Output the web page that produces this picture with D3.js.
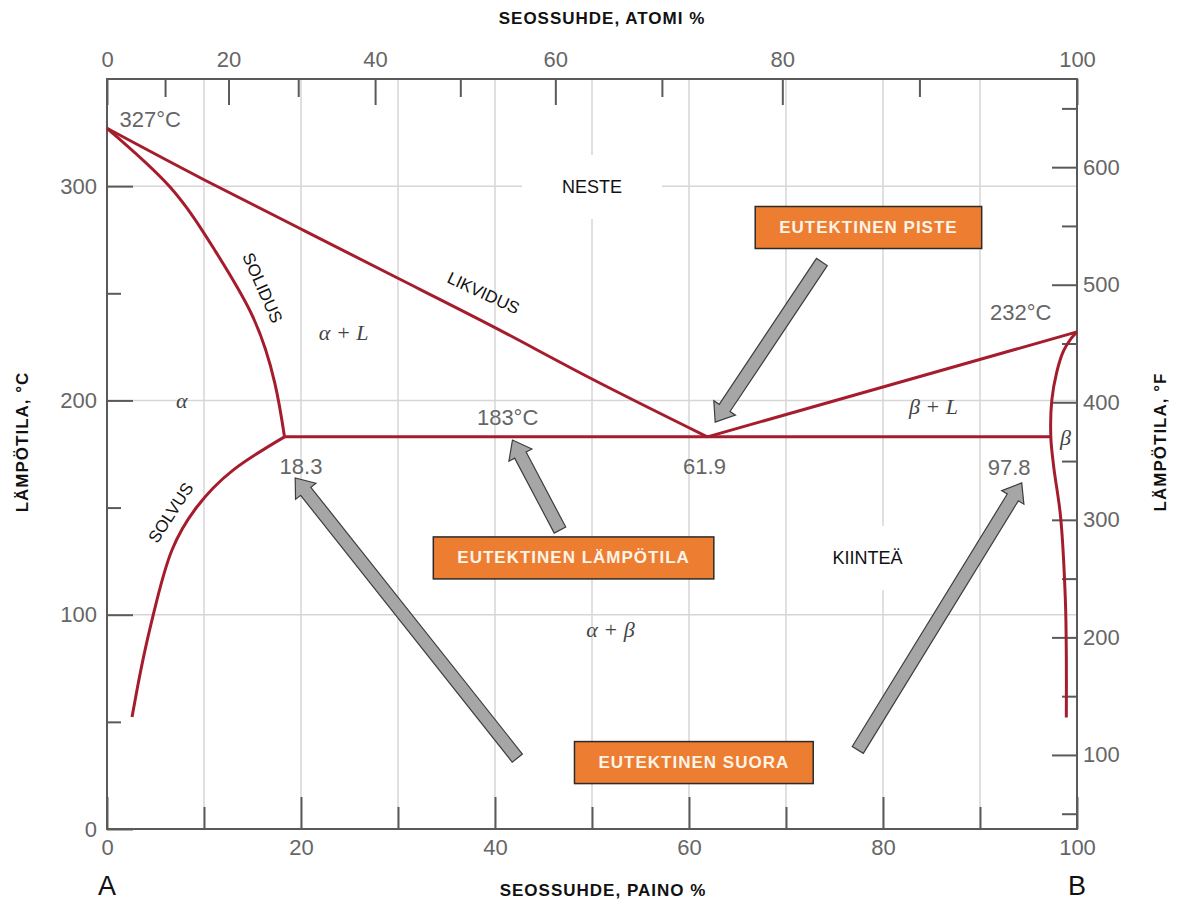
<!DOCTYPE html>
<html><head><meta charset="utf-8">
<script src="https://cdn.jsdelivr.net/npm/d3@7/dist/d3.min.js"></script>
<style>body{margin:0;background:#fff}svg{display:block}</style>
</head><body><svg id="c" width="1179" height="903"></svg>
<script>
// ---------- data (wt% Sn, °C) ----------
const liquidusLeft  = [[0,327],[10,303],[20,280],[30,257],[40,234],[50,210],[61.9,183]];
const solidusLeft   = [[0,327],[6.5,299.6],[11.1,270.2],[15.05,238.9],[17.3,208.1],[18.3,183]];
const solvusLeft    = [[18.3,183],[13,167.5],[9.18,149.8],[6.7,130.2],[5.15,106.9],[3.92,83.5],[3.09,64.9],[2.58,52.3]];
const eutecticLine  = [[18.3,183],[97.3,183]];
const liquidusRight = [[61.9,183],[100,232]];
const betaBoundary  = [[100,232],[99.4,229],[98.6,223],[97.9,213],[97.4,200],[97.3,183],[97.6,169],[98.3,146],[98.8,107],[98.9,80],[98.9,52]];

const wtTicks      = [0,20,40,60,80,100];
const wtMinorTicks = [10,30,50,70,90];
const atTicks      = [0,20,40,60,80,100];
const atMinorTicks = [10,30,50,70,90];
const cTicks       = [0,100,200,300];
const cMinorTicks  = [50,150,250];
const fTicks       = [100,200,300,400,500,600];
const fMinorTicks  = [50,150,250,350,450,550,650];
const gridX        = [10,20,30,40,50,60,70,80,90];
const gridY        = [100,200,300];

// value labels: [text, wt%, °C, anchor]
const valueLabels = [["327°C",1.3,331,"start"],["232°C",94.2,241,"middle"],["183°C",41.3,192,"middle"],
                     ["18.3",20.0,169,"middle"],["61.9",61.6,169,"middle"],["97.8",93.0,168.5,"middle"]];
const regionLabels = [["NESTE",50,299.6],["KIINTEÄ",78.4,126.5]];
const curveLabels  = [["LIKVIDUS",38.8,250,25],["SOLIDUS",16,252.5,66],["SOLVUS",6.6,147.5,-57]];
const phaseLabels  = [["α + L",24.4,231.5],["α",7.7,200],["β + L",85.2,197],["β",98.8,182.5],["α + β",51.9,93]];
const boxLabels    = [["EUTEKTINEN PISTE",78.5,280.7],["EUTEKTINEN LÄMPÖTILA",48.1,126.5],["EUTEKTINEN SUORA",60.5,31]];
// arrows: [tail wt, tail °C, tip wt, tip °C]
const arrows = [[73.7,264.6,62.7,189.9],[46.7,139.5,41.8,181.5],[42.3,33.1,19.4,163.8],[77.4,36.9,94.3,161.5]];

// ---------- scales ----------
const svg = d3.select("#c");
const x  = d3.scaleLinear().domain([0,100]).range([107,1077]);
const y  = d3.scaleLinear().domain([0,350]).range([829,79]);
const yF = d3.scaleLinear().domain([37,675]).range([829,79]);
const MPb = 207.2, MSn = 118.71;
const atToWt = a => a*MSn/(a*MSn + (100-a)*MPb)*100;

const sans = "'Liberation Sans', Arial, sans-serif";
const grey = "#666";
const axisCol = "#5a5a5a";

// ---------- grid ----------
const g = svg.append("g");
g.selectAll(".gx").data(gridX).join("line")
  .attr("x1",d=>x(d)).attr("x2",d=>x(d)).attr("y1",y(0)).attr("y2",y(350))
  .attr("stroke","#d6d6d6").attr("stroke-width",1.5);
g.selectAll(".gy").data(gridY).join("line")
  .attr("x1",x(0)).attr("x2",x(100)).attr("y1",d=>y(d)).attr("y2",d=>y(d))
  .attr("stroke","#d6d6d6").attr("stroke-width",1.5);

// ---------- axes ----------
function style(sel, labels=true){
  sel.select(".domain").remove();
  sel.selectAll(".tick line").attr("stroke",axisCol).attr("stroke-width",2);
  sel.selectAll(".tick text").attr("fill",grey).style("font-family",sans).style("font-size","22px");
  if(!labels) sel.selectAll(".tick text").remove();
}
svg.append("g").attr("transform",`translate(0,${y(0)})`)
  .call(d3.axisBottom(x).tickValues(wtTicks).tickSize(-32).tickPadding(10).tickFormat(d3.format("d"))).call(style);
svg.append("g").attr("transform",`translate(0,${y(0)})`)
  .call(d3.axisBottom(x).tickValues(wtMinorTicks).tickSize(-22)).call(s=>style(s,false));
svg.append("g").attr("transform",`translate(0,${y(350)})`)
  .call(d3.axisTop(x).tickValues(atTicks.map(atToWt)).tickSize(-26).tickPadding(12).tickFormat((d,i)=>atTicks[i])).call(style);
svg.append("g").attr("transform",`translate(0,${y(350)})`)
  .call(d3.axisTop(x).tickValues(atMinorTicks.map(atToWt)).tickSize(-18)).call(s=>style(s,false));
svg.append("g").attr("transform",`translate(${x(0)},0)`)
  .call(d3.axisLeft(y).tickValues(cTicks).tickSize(-26).tickPadding(10)).call(style);
svg.append("g").attr("transform",`translate(${x(0)},0)`)
  .call(d3.axisLeft(y).tickValues(cMinorTicks).tickSize(-14)).call(s=>style(s,false));
svg.append("g").attr("transform",`translate(${x(100)},0)`)
  .call(d3.axisRight(yF).tickValues(fTicks).tickSize(-25).tickPadding(6)).call(style);
svg.append("g").attr("transform",`translate(${x(100)},0)`)
  .call(d3.axisRight(yF).tickValues(fMinorTicks).tickSize(-15)).call(s=>style(s,false));

svg.append("rect").attr("x",x(0)).attr("y",y(350)).attr("width",x(100)-x(0)).attr("height",y(0)-y(350))
  .attr("fill","none").attr("stroke",axisCol).attr("stroke-width",2);

// ---------- axis titles ----------
const title = (t,xx,yy,rot)=>svg.append("text").text(t)
  .attr("transform",`translate(${xx},${yy}) rotate(${rot})`).attr("text-anchor","middle")
  .attr("dominant-baseline","central").style("font-family",sans).style("font-weight","bold")
  .style("font-size","17px").style("letter-spacing","1px").attr("fill","#111");
title("SEOSSUHDE, ATOMI %", 602, 18, 0);
title("SEOSSUHDE, PAINO %", 603, 890, 0);
title("LÄMPÖTILA, °C", 22, 442, -90);
title("LÄMPÖTILA, °F", 1160, 442, -90);
svg.append("text").text("A").attr("x",x(0)).attr("y",886).attr("text-anchor","middle")
  .attr("dominant-baseline","central").style("font-family",sans).style("font-size","27px").attr("fill","#111");
svg.append("text").text("B").attr("x",x(100)).attr("y",886).attr("text-anchor","middle")
  .attr("dominant-baseline","central").style("font-family",sans).style("font-size","27px").attr("fill","#111");

// ---------- region labels with white background ----------
regionLabels.forEach(([t,w,c])=>{
  const gl = svg.append("g");
  const tx = gl.append("text").text(t).attr("x",x(w)).attr("y",y(c)).attr("text-anchor","middle")
    .attr("dominant-baseline","central").style("font-family",sans).style("font-size","18px").attr("fill","#111");
  const b = tx.node().getBBox();
  gl.insert("rect", () => tx.node()).attr("x",b.x-40).attr("y",b.y-22).attr("width",b.width+80).attr("height",b.height+44).attr("fill","#fff");
});

// ---------- curves ----------
const lineLin = d3.line().x(d=>x(d[0])).y(d=>y(d[1]));
const lineNat = d3.line().x(d=>x(d[0])).y(d=>y(d[1])).curve(d3.curveNatural);
const lineCR = d3.line().x(d=>x(d[0])).y(d=>y(d[1])).curve(d3.curveCatmullRom.alpha(0.5));
const red = "#a51d2d";
[[liquidusLeft,lineNat],[solidusLeft,lineNat],[solvusLeft,lineNat],[eutecticLine,lineLin],[liquidusRight,lineLin],[betaBoundary,lineCR]]
  .forEach(([d,gen])=>svg.append("path").attr("d",gen(d)).attr("fill","none").attr("stroke",red)
     .attr("stroke-width",3).attr("stroke-linejoin","miter").attr("stroke-linecap","butt"));

// ---------- value labels ----------
valueLabels.forEach(([t,w,c,a])=>svg.append("text").text(t).attr("x",x(w)).attr("y",y(c))
  .attr("text-anchor",a).attr("dominant-baseline","central").style("font-family",sans)
  .style("font-size","22px").attr("fill",grey));

curveLabels.forEach(([t,w,c,r])=>svg.append("text").text(t)
  .attr("transform",`translate(${x(w)},${y(c)}) rotate(${r})`).attr("text-anchor","middle")
  .attr("dominant-baseline","central").style("font-family",sans).style("font-size","17px").attr("fill","#111"));

phaseLabels.forEach(([t,w,c])=>svg.append("text").text(t).attr("x",x(w)).attr("y",y(c))
  .attr("text-anchor","middle").attr("dominant-baseline","central")
  .style("font-family","'Liberation Serif','DejaVu Serif',serif").style("font-style","italic")
  .style("font-size","22px").attr("fill","#444").style("white-space","pre"));

// ---------- arrows ----------
const sw=6.5, hw=13, hl=17;
arrows.forEach(([w0,c0,w1,c1])=>{
  const X0=x(w0),Y0=y(c0),X1=x(w1),Y1=y(c1);
  const dx=X1-X0, dy=Y1-Y0, L=Math.hypot(dx,dy), ux=dx/L, uy=dy/L, px=-uy, py=ux;
  const bx=X1-ux*hl, by=Y1-uy*hl;
  const pts=[[X0+px*sw,Y0+py*sw],[bx+px*sw,by+py*sw],[bx+px*hw,by+py*hw],[X1,Y1],
             [bx-px*hw,by-py*hw],[bx-px*sw,by-py*sw],[X0-px*sw,Y0-py*sw]];
  svg.append("path").attr("d",d3.line()(pts)+"Z").attr("fill","#a6a6a6").attr("stroke","#3d3d3d").attr("stroke-width",1.2);
});

// ---------- orange boxes ----------
boxLabels.forEach(([t,w,c])=>{
  const gb = svg.append("g");
  const tx = gb.append("text").text(t).attr("x",x(w)).attr("y",y(c)).attr("text-anchor","middle")
    .attr("dominant-baseline","central").style("font-family",sans).style("font-weight","bold")
    .style("font-size","17px").style("letter-spacing","1px").attr("fill","#fdf4e8");
  const b = tx.node().getBBox();
  gb.insert("rect", () => tx.node()).attr("x",b.x-24).attr("y",y(c)-21).attr("width",b.width+48).attr("height",42)
    .attr("fill","#ed7d31").attr("stroke","#2b2b2b").attr("stroke-width",1.5);
});
</script></body></html>
